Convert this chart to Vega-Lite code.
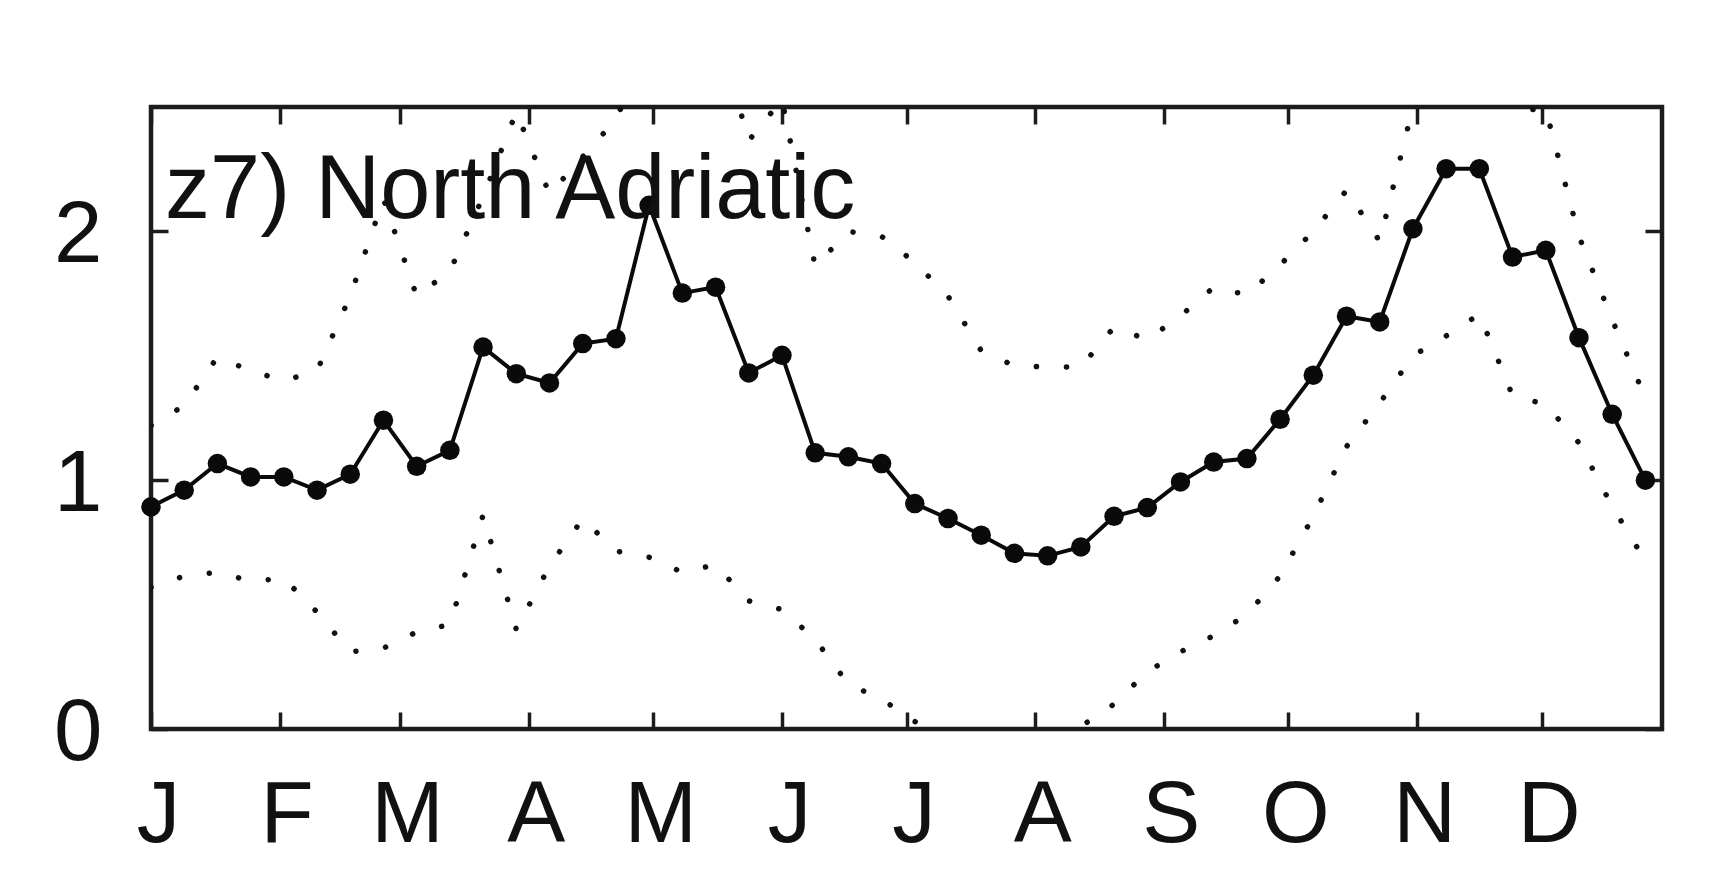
{
  "$schema": "https://vega.github.io/schema/vega-lite/v6.json",
  "width": 1511,
  "height": 622,
  "autosize": {"type": "none"},
  "padding": {"left": 151, "top": 107, "right": 64, "bottom": 159},
  "background": "white",
  "config": {
    "view": {"stroke": "#1c1c1c", "strokeWidth": 4.5, "fill": "white"},
    "font": "Liberation Sans"
  },
  "data": {
    "values": [
      {"day": 1, "mean": 0.893, "upper": 1.22, "lower": 0.57},
      {"day": 9, "mean": 0.96, "upper": 1.3, "lower": 0.615},
      {"day": 17, "mean": 1.067, "upper": 1.495, "lower": 0.63},
      {"day": 25, "mean": 1.013, "upper": 1.44, "lower": 0.595},
      {"day": 33, "mean": 1.013, "upper": 1.4, "lower": 0.605},
      {"day": 41, "mean": 0.96, "upper": 1.44, "lower": 0.47},
      {"day": 49, "mean": 1.024, "upper": 1.74, "lower": 0.31},
      {"day": 57, "mean": 1.241, "upper": 2.13, "lower": 0.325},
      {"day": 65, "mean": 1.056, "upper": 1.74, "lower": 0.39},
      {"day": 73, "mean": 1.12, "upper": 1.84, "lower": 0.42},
      {"day": 81, "mean": 1.535, "upper": 2.14, "lower": 0.86},
      {"day": 89, "mean": 1.428, "upper": 2.48, "lower": 0.4},
      {"day": 97, "mean": 1.391, "upper": 2.15, "lower": 0.655},
      {"day": 105, "mean": 1.549, "upper": 2.3, "lower": 0.845},
      {"day": 113, "mean": 1.569, "upper": 2.45, "lower": 0.715},
      {"day": 121, "mean": 2.105, "upper": 2.75, "lower": 0.69},
      {"day": 129, "mean": 1.752, "upper": 2.85, "lower": 0.63},
      {"day": 137, "mean": 1.776, "upper": 2.83, "lower": 0.66},
      {"day": 145, "mean": 1.431, "upper": 2.365, "lower": 0.515},
      {"day": 153, "mean": 1.502, "upper": 2.53, "lower": 0.48},
      {"day": 161, "mean": 1.11, "upper": 1.86, "lower": 0.36},
      {"day": 169, "mean": 1.094, "upper": 2.0, "lower": 0.18},
      {"day": 177, "mean": 1.067, "upper": 1.98, "lower": 0.12},
      {"day": 185, "mean": 0.906, "upper": 1.875, "lower": 0.03},
      {"day": 193, "mean": 0.846, "upper": 1.74, "lower": -0.03},
      {"day": 201, "mean": 0.779, "upper": 1.52, "lower": -0.01},
      {"day": 209, "mean": 0.706, "upper": 1.46, "lower": -0.05},
      {"day": 217, "mean": 0.696, "upper": 1.455, "lower": -0.04},
      {"day": 225, "mean": 0.732, "upper": 1.455, "lower": 0.01},
      {"day": 233, "mean": 0.855, "upper": 1.615, "lower": 0.1},
      {"day": 241, "mean": 0.89, "upper": 1.565, "lower": 0.23},
      {"day": 249, "mean": 0.993, "upper": 1.66, "lower": 0.31},
      {"day": 257, "mean": 1.073, "upper": 1.775, "lower": 0.375},
      {"day": 265, "mean": 1.087, "upper": 1.745, "lower": 0.46},
      {"day": 273, "mean": 1.245, "upper": 1.865, "lower": 0.615},
      {"day": 281, "mean": 1.422, "upper": 2.0, "lower": 0.855},
      {"day": 289, "mean": 1.659, "upper": 2.165, "lower": 1.135},
      {"day": 297, "mean": 1.636, "upper": 1.96, "lower": 1.31},
      {"day": 305, "mean": 2.011, "upper": 2.5, "lower": 1.5},
      {"day": 313, "mean": 2.252, "upper": 2.75, "lower": 1.58},
      {"day": 321, "mean": 2.252, "upper": 2.7, "lower": 1.667},
      {"day": 329, "mean": 1.897, "upper": 2.49, "lower": 1.34},
      {"day": 337, "mean": 1.924, "upper": 2.49, "lower": 1.304},
      {"day": 345, "mean": 1.573, "upper": 1.98, "lower": 1.15},
      {"day": 353, "mean": 1.265, "upper": 1.645, "lower": 0.895},
      {"day": 361, "mean": 1.0, "upper": 1.33, "lower": 0.675}
    ]
  },
  "layer": [
    {
      "mark": {"type": "line", "stroke": "#111", "strokeWidth": 5.5, "strokeDash": [0.1, 30], "strokeCap": "round", "clip": true},
      "encoding": {
        "x": {
          "field": "day", "type": "quantitative",
          "scale": {"domain": [1, 365], "nice": false, "zero": false},
          "axis": {
            "orient": "bottom", "title": null, "domain": false, "grid": false,
            "values": [1, 32, 61, 92, 122, 153, 183, 214, 245, 275, 306, 336],
            "labelExpr": "['J','F','M','A','M','J','J','A','S','O','N','D'][indexof([1,32,61,92,122,153,183,214,245,275,306,336], datum.value)]",
            "tickSize": -17, "tickWidth": 3.5, "tickColor": "#1c1c1c",
            "labelFont": "Liberation Sans", "labelFontSize": 87, "labelColor": "#111",
            "labelBaseline": "top", "labelAlign": "center", "labelPadding": 60, "labelOffset": 7,
            "labelFlush": false, "labelOverlap": false
          }
        },
        "y": {
          "field": "upper", "type": "quantitative",
          "scale": {"domain": [0, 2.5], "nice": false, "zero": false},
          "axis": {
            "orient": "left", "title": null, "domain": false, "grid": false,
            "values": [0, 1, 2],
            "tickSize": -17, "tickWidth": 3.5, "tickColor": "#1c1c1c",
            "labelFont": "Liberation Sans", "labelFontSize": 87, "labelColor": "#111",
            "labelBaseline": "middle", "labelAlign": "right", "labelPadding": 66, "labelOffset": 4,
            "labelFlush": false, "labelOverlap": false
          }
        }
      }
    },
    {
      "mark": {"type": "line", "stroke": "#111", "strokeWidth": 5.5, "strokeDash": [0.1, 30], "strokeCap": "round", "clip": true},
      "encoding": {
        "x": {
          "field": "day", "type": "quantitative",
          "axis": {
            "orient": "top", "title": null, "domain": false, "grid": false, "labels": false,
            "values": [1, 32, 61, 92, 122, 153, 183, 214, 245, 275, 306, 336],
            "tickSize": -17, "tickWidth": 3.5, "tickColor": "#1c1c1c"
          }
        },
        "y": {
          "field": "lower", "type": "quantitative",
          "axis": {
            "orient": "right", "title": null, "domain": false, "grid": false, "labels": false,
            "values": [0, 1, 2],
            "tickSize": -17, "tickWidth": 3.5, "tickColor": "#1c1c1c"
          }
        }
      }
    },
    {
      "mark": {"type": "line", "stroke": "#0a0a0a", "strokeWidth": 4},
      "encoding": {
        "x": {"field": "day", "type": "quantitative", "axis": null},
        "y": {"field": "mean", "type": "quantitative", "axis": null}
      }
    },
    {
      "mark": {"type": "point", "shape": "circle", "filled": true, "fill": "#0a0a0a", "stroke": null, "size": 380, "opacity": 1},
      "encoding": {
        "x": {"field": "day", "type": "quantitative", "axis": null},
        "y": {"field": "mean", "type": "quantitative", "axis": null}
      }
    },
    {
      "data": {"values": [{"label": "z7) North Adriatic", "day": 4.4, "v": 2.055}]},
      "mark": {"type": "text", "align": "left", "baseline": "alphabetic", "font": "Liberation Sans", "fontSize": 90, "fill": "#111"},
      "encoding": {
        "x": {"field": "day", "type": "quantitative", "axis": null},
        "y": {"field": "v", "type": "quantitative", "axis": null},
        "text": {"field": "label"}
      }
    }
  ],
  "resolve": {"axis": {"x": "independent", "y": "independent"}}
}
